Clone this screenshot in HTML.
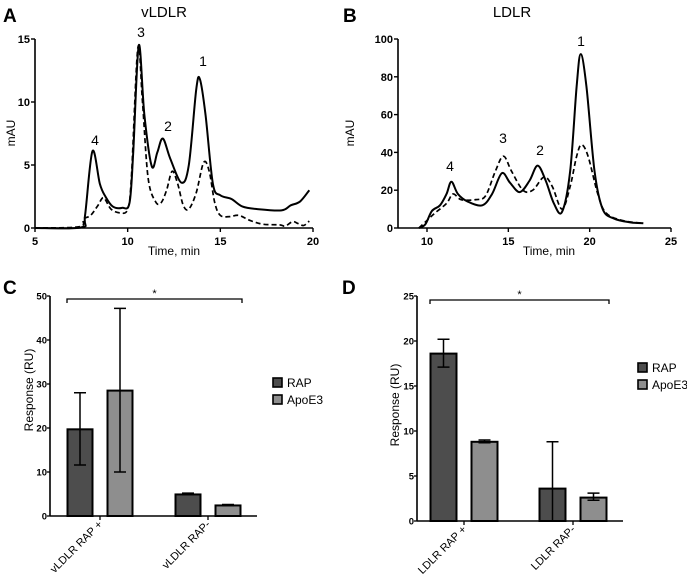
<!DOCTYPE html>
<html><head><meta charset="utf-8"><style>
body{margin:0;background:#fff}
svg{display:block;font-family:"Liberation Sans",Arial,sans-serif}
.tk{font-size:11px;font-weight:bold}
</style></head><body>
<svg id="fig" width="687" height="577" viewBox="0 0 687 577" xmlns="http://www.w3.org/2000/svg">
<g id="gA"></g>
<g id="gB"></g>
<g id="gC"></g>
<g id="gD"></g>
</svg>
<script>
// Panel A data
const aSolidT=[5,7.5,7.7,8.1,8.5,8.8,9.2,9.7,10.1,10.3,10.6,10.9,11.3,11.6,11.9,12.3,12.9,13.3,13.7,13.9,14.2,14.6,15.0,15.6,16.2,17,18.3,18.8,19.3,19.8];
const aSolidV=[0,0.05,1,6.1,3.5,2.5,1.7,1.6,2.0,6,14.5,9,4.9,6,7.1,5.5,3.6,5,11,11.8,9,3.5,2.6,2.3,1.7,1.5,1.4,1.8,2.1,3.0];
const aDashT=[5,7.4,7.6,8.0,8.4,8.7,9.1,9.6,10.0,10.2,10.55,10.8,11.1,11.5,11.8,12.1,12.4,12.7,13.0,13.3,13.7,14.1,14.4,14.7,15.0,15.5,16.0,16.6,17.3,18.2,18.5,18.9,19.2,19.5,19.8];
const aDashV=[0,0.1,0.7,1.0,1.8,2.4,1.5,1.2,1.5,4,14.3,10,4,2.1,2.0,3,4.5,3.5,1.8,1.5,2.8,5.2,4.5,2,1.0,0.9,1.0,0.6,0.3,0.25,0.15,0.5,0.35,0.2,0.55];
const aXTicks=[5,10,15,20];
const aYTicks=[0,5,10,15];
// Panel B data
const bSolidT=[9.5,9.9,10.3,10.8,11.2,11.5,11.9,12.5,13.4,14.0,14.6,15.1,15.7,16.3,16.8,17.3,17.8,18.3,18.8,19.2,19.45,19.8,20.3,20.8,21.5,22.5,23.3];
const bSolidV=[0,2,9,12,18,24.5,18,14,12,18,29,24,19,25,33,25,13,8.5,30,75,92,75,30,10,5,3,2.5];
const bDashT=[9.5,10.0,10.5,11.2,11.6,12.1,13.0,13.6,14.2,14.7,15.2,15.9,16.5,17.2,17.7,18.3,18.8,19.2,19.5,19.9,20.5,21,22,23.3];
const bDashV=[0,4,8,13,18,15,15,17,30,38,30,20,20,27,22,10,22,38,44,38,18,8,4,2.5];
const bXTicks=[10,15,20,25];
const bYTicks=[0,20,40,60,80,100];
// Panel C data
const cCats=["vLDLR RAP +","vLDLR RAP-"];
const cRap=[19.7,4.9];const cRapLo=[11.6,4.9];const cRapHi=[28,5.2];
const cApo=[28.5,2.4];const cApoLo=[10,2.4];const cApoHi=[47.2,2.6];
const cYTicks=[0,10,20,30,40,50];
// Panel D data
const dCats=["LDLR RAP +","LDLR RAP-"];
const dRap=[18.6,3.6];const dRapLo=[17.1,0];const dRapHi=[20.2,8.8];
const dApo=[8.8,2.6];const dApoLo=[8.7,2.3];const dApoHi=[9.0,3.1];
const dYTicks=[0,5,10,15,20,25];

const NS="http://www.w3.org/2000/svg";
function mk(p,tag,at,txt){const e=document.createElementNS(NS,tag);for(const k in at)e.setAttribute(k,at[k]);if(txt!==undefined)e.textContent=txt;p.appendChild(e);return e;}
function smooth(pts){let d="M"+pts[0][0]+","+pts[0][1];for(let i=0;i<pts.length-1;i++){const p0=pts[Math.max(0,i-1)],p1=pts[i],p2=pts[i+1],p3=pts[Math.min(pts.length-1,i+2)];const c1x=p1[0]+(p2[0]-p0[0])/6,c1y=p1[1]+(p2[1]-p0[1])/6,c2x=p2[0]-(p3[0]-p1[0])/6,c2y=p2[1]-(p3[1]-p1[1])/6;d+=` C${c1x},${c1y} ${c2x},${c2y} ${p2[0]},${p2[1]}`;}return d;}

function chrom(g,o){
  const sx=v=>o.x0+(v-o.xa)/(o.xb-o.xa)*(o.x1-o.x0);
  const sy=v=>o.y0-(v-o.ya)/(o.yb-o.ya)*(o.y0-o.y1);
  let t=mk(g,"text",{x:o.lx,y:o.ly,"font-size":"19","font-weight":"bold"},o.letter);
  
  
  t=mk(g,"text",{x:o.tx,y:17,"font-size":"15","text-anchor":"middle"},o.title);
  
  
  let ax=mk(g,"path",{d:`M${o.axX},${sy(o.ya)}H${o.x1}M${o.axX},${sy(o.ya)}V${o.y1}`,stroke:"#000","stroke-width":"1.6",fill:"none"});
  
  
  o.xt.forEach(v=>{mk(g,"line",{x1:sx(v),x2:sx(v),y1:o.y0,y2:o.y0+4,stroke:"#000","stroke-width":"1.4"});
    const e=mk(g,"text",{x:sx(v),y:o.y0+17,"text-anchor":"middle",class:"tk"},v);
    
    });
  o.yt.forEach(v=>{mk(g,"line",{x1:o.axX-4,x2:o.axX,y1:sy(v),y2:sy(v),stroke:"#000","stroke-width":"1.4"});
    const e=mk(g,"text",{x:o.axX-5,y:sy(v)+4,"text-anchor":"end",class:"tk"},v);
    
    });
  t=mk(g,"text",{x:(o.x0+o.x1)/2,y:255,"text-anchor":"middle","font-size":"12"},"Time, min");
  
  
  t=mk(g,"text",{x:0,y:0,"text-anchor":"middle","font-size":"12",transform:`translate(${o.mx},133) rotate(-90)`},"mAU");
  
  
  let p=mk(g,"path",{d:smooth(o.dt.map((v,i)=>[sx(v),sy(o.dv[i])])),stroke:"#000","stroke-width":"1.7",fill:"none","stroke-dasharray":"5,3"});
  
  
  p=mk(g,"path",{d:smooth(o.st.map((v,i)=>[sx(v),sy(o.sv[i])])),stroke:"#000","stroke-width":"2",fill:"none"});
  
  
  o.peaks.forEach(pk=>{const e=mk(g,"text",{x:pk[0],y:pk[1],"text-anchor":"middle","font-size":"14"},pk[2]);
    
    });
}
chrom(document.getElementById("gA"),{letter:"A",lx:3,ly:22,title:"vLDLR",tx:164,xa:5,xb:20,x0:35,x1:313,ya:0,yb:15,y0:228,y1:39,axX:35,xt:aXTicks,yt:aYTicks,mx:15,st:aSolidT,sv:aSolidV,dt:aDashT,dv:aDashV,peaks:[[95,145,"4"],[141,37,"3"],[168,131,"2"],[203,66,"1"]]});
chrom(document.getElementById("gB"),{letter:"B",lx:343,ly:22,title:"LDLR",tx:512,xa:10,xb:25,x0:427,x1:671,ya:0,yb:100,y0:228,y1:39,axX:398,xt:bXTicks,yt:bYTicks,mx:354,st:bSolidT,sv:bSolidV,dt:bDashT,dv:bDashV,peaks:[[450,171,"4"],[503,143,"3"],[540,155,"2"],[581,46,"1"]]});

function bars(g,o){
  const sy=v=>o.y0-v/o.ymax*(o.y0-o.y1);
  let t=mk(g,"text",{x:o.lx,y:o.ly,"font-size":"19","font-weight":"bold"},o.letter);
  
  
  let ax=mk(g,"path",{d:`M${o.axX},${o.y0}H${o.x1}M${o.axX},${o.y0}V${o.y1}`,stroke:"#000","stroke-width":"1.6",fill:"none"});
  
  
  o.yt.forEach(v=>{mk(g,"line",{x1:o.axX-3,x2:o.axX,y1:sy(v),y2:sy(v),stroke:"#000","stroke-width":"1.3"});
    const e=mk(g,"text",{x:o.axX-3,y:sy(v)+3.5,"text-anchor":"end","font-size":"9.5","font-weight":"bold"},v);
    
    });
  t=mk(g,"text",{x:0,y:0,"text-anchor":"middle","font-size":"12",transform:`translate(${o.ylx},${o.yly}) rotate(-90)`},"Response (RU)");
  
  
  const series=[[o.rap,o.rapLo,o.rapHi,"#4d4d4d","rap"],[o.apo,o.apoLo,o.apoHi,"#8e8e8e","apoe3"]];
  o.cats.forEach((c,i)=>{
    const cx=o.c0+i*o.gap;
    series.forEach((s,j)=>{
      const bx=cx+(j===0?-o.off-o.bw:o.off);
      const r=mk(g,"rect",{x:bx,y:sy(s[0][i]),width:o.bw,height:o.y0-sy(s[0][i]),fill:s[3],stroke:"#000","stroke-width":"2"});
      
      
      const m=bx+o.bw/2;
      const e=mk(g,"path",{d:`M${m},${sy(s[1][i])}V${sy(s[2][i])}M${m-6},${sy(s[2][i])}H${m+6}M${m-6},${sy(s[1][i])}H${m+6}`,stroke:"#000","stroke-width":"1.5",fill:"none"});
      
      
    });
    mk(g,"line",{x1:cx,x2:cx,y1:o.y0,y2:o.y0+4,stroke:"#000","stroke-width":"1.3"});
    const l=mk(g,"text",{x:0,y:0,"text-anchor":"end","font-size":"11",transform:`translate(${cx+3},${o.y0+9}) rotate(-45)`},c);
    
    
  });
  const br=mk(g,"path",{d:`M${o.bx0},${o.by+4}V${o.by}H${o.bx1}V${o.by+4}`,stroke:"#000","stroke-width":"1.3",fill:"none"});
  
  
  t=mk(g,"text",{x:(o.bx0+o.bx1)/2,y:o.by-2,"text-anchor":"middle","font-size":"11"},"*");
  
  
  [["RAP","#4d4d4d"],["ApoE3","#8e8e8e"]].forEach((lg,k)=>{
    const y=o.legY+k*17;
    const q=mk(g,"rect",{x:o.legX,y:y-5,width:9,height:9,fill:lg[1],stroke:"#000","stroke-width":"1.6"});
    
    
    const e=mk(g,"text",{x:o.legX+14,y:y+4,"font-size":"12"},lg[0]);
    
    
  });
}
bars(document.getElementById("gC"),{letter:"C",lx:3,ly:294,axX:50,x1:257,y0:516,y1:296,ymax:50,yt:cYTicks,ylx:33,yly:390,cats:cCats,c0:100,gap:108,bw:25,off:7.5,rap:cRap,rapLo:cRapLo,rapHi:cRapHi,apo:cApo,apoLo:cApoLo,apoHi:cApoHi,bx0:67,bx1:242,by:299,legX:273,legY:383});
bars(document.getElementById("gD"),{letter:"D",lx:342,ly:294,axX:417,x1:623,y0:521,y1:296,ymax:25,yt:dYTicks,ylx:399,yly:405,cats:dCats,c0:464,gap:109,bw:26,off:7.5,rap:dRap,rapLo:dRapLo,rapHi:dRapHi,apo:dApo,apoLo:dApoLo,apoHi:dApoHi,bx0:430,bx1:609,by:300,legX:638,legY:368});
</script>
</body></html>
